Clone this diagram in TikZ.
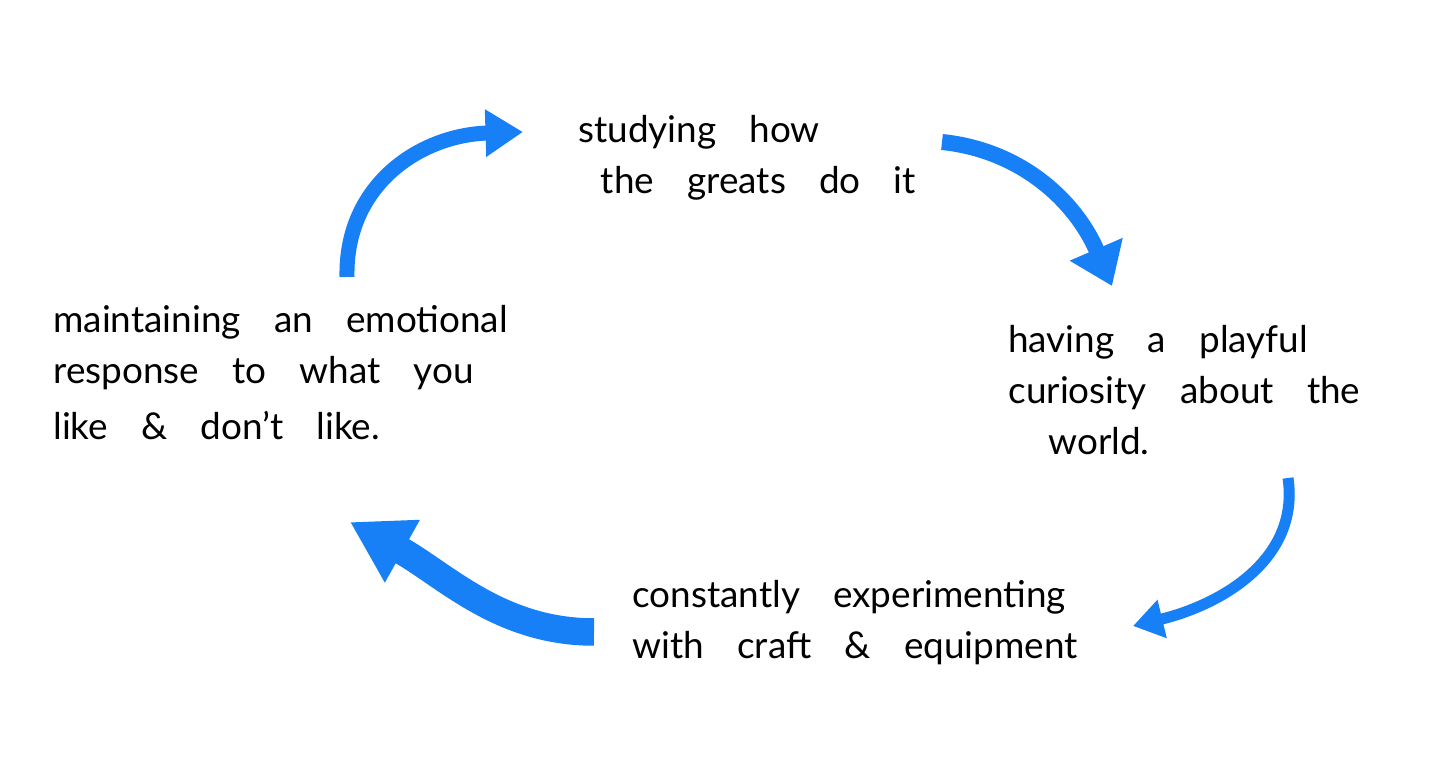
\documentclass[tikz,border=0pt]{standalone}
\usepackage{fontspec}
\setmainfont{Lato}
\usetikzlibrary{arrows.meta}
\definecolor{penblue}{RGB}{24,128,246}
\newcommand\handfont{\fontsize{21}{29}\selectfont\spaceskip=0.9em\relax}

\begin{document}
\begin{tikzpicture}[x=0.02cm, y=-0.02cm,
  note/.style={anchor=north west, inner sep=0pt, align=left, font=\handfont},
  flow/.style n args={3}{draw=penblue, line width=#1,
    -{Triangle[length=#2, width=#3]}},
]
\useasboundingbox[fill=white] (0,0) rectangle (1456,759);

% Stages of the loop
\node[note] (greats) at (578,115) {studying how\\\hspace*{0.45cm}the greats do it};
\node[note] (playful) at (1008,325) {having a playful\\curiosity about the\\\hspace*{0.8cm}world.};
\node[note] (experiment) at (632,580) {constantly experimenting\\with craft \& equipment};
\node[note] (emotional) at (53,305) {maintaining an emotional\\response to what you\\[3pt]like \& don't like.};

% Arrow ends
\coordinate (up_s) at (347,277);
\coordinate (up_e) at (523,132);
\coordinate (down_s) at (942,142);
\coordinate (down_e) at (1112,286);
\coordinate (back_s) at (1288,478);
\coordinate (back_e) at (1133,626);
\coordinate (left_s) at (594,632);
\coordinate (left_e) at (350,522);

% Blue arrows
\draw[flow={0.3cm}{0.75cm}{0.9cm}] (up_s) .. controls (345,185) and (420,135) .. (up_e);
\draw[flow={0.32cm}{0.8cm}{1.1cm}] (down_s) .. controls (1020,150) and (1075,200) .. (down_e);
\draw[flow={0.22cm}{0.6cm}{0.75cm}] (back_s) .. controls (1300,560) and (1220,605) .. (back_e);
\draw[flow={0.55cm}{1.2cm}{1.35cm}] (left_s) .. controls (500,632) and (445,575) .. (left_e);
\end{tikzpicture}
\end{document}
